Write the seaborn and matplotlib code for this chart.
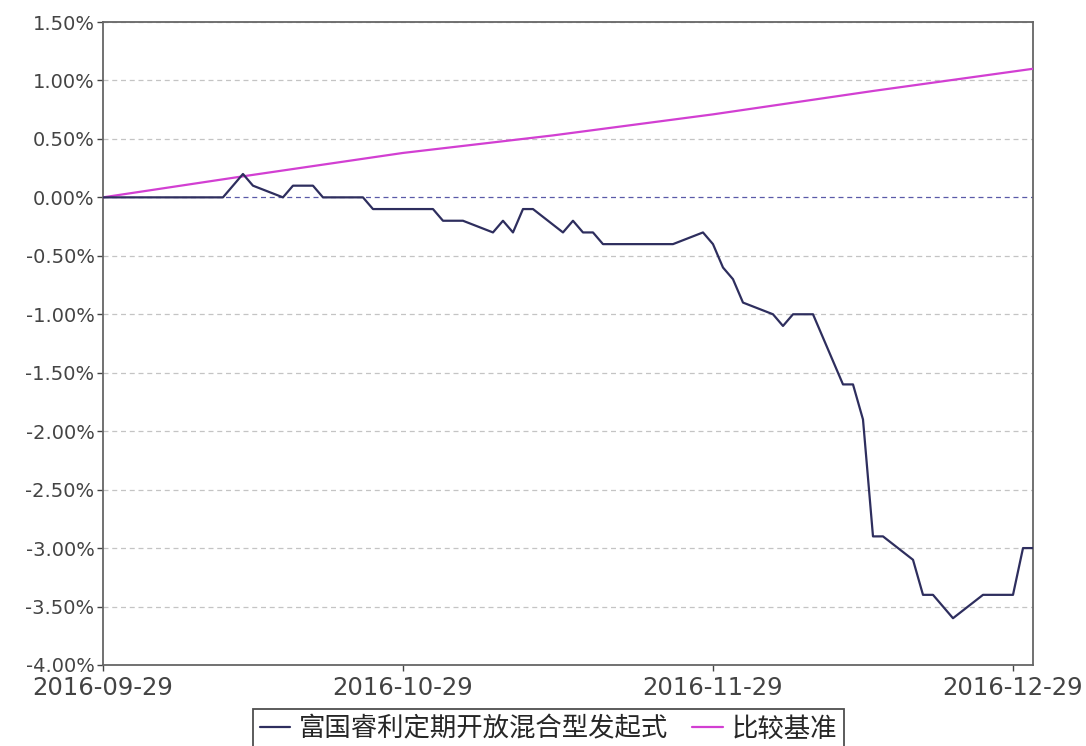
import pandas as pd
import matplotlib
matplotlib.use('Agg')
import matplotlib.pyplot as plt
import matplotlib.dates as mdates
from matplotlib.ticker import FuncFormatter
import seaborn as sns

# Fund cumulative return (%), vertices
fund_dates = ['2016-09-29', '2016-10-11', '2016-10-13', '2016-10-14', '2016-10-17',
              '2016-10-18', '2016-10-20', '2016-10-21', '2016-10-25', '2016-10-26',
              '2016-11-01', '2016-11-02', '2016-11-04', '2016-11-07', '2016-11-08',
              '2016-11-09', '2016-11-10', '2016-11-11', '2016-11-14', '2016-11-15',
              '2016-11-16', '2016-11-17', '2016-11-18', '2016-11-25', '2016-11-28',
              '2016-11-29', '2016-11-30', '2016-12-01', '2016-12-02', '2016-12-05',
              '2016-12-06', '2016-12-07', '2016-12-09', '2016-12-12', '2016-12-13',
              '2016-12-14', '2016-12-15', '2016-12-16', '2016-12-19', '2016-12-20',
              '2016-12-21', '2016-12-23', '2016-12-26', '2016-12-29', '2016-12-30',
              '2016-12-31']
fund_values = [0.0, 0.0, 0.2, 0.1, 0.0,
               0.1, 0.1, 0.0, 0.0, -0.1,
               -0.1, -0.2, -0.2, -0.3, -0.2,
               -0.3, -0.1, -0.1, -0.3, -0.2,
               -0.3, -0.3, -0.4, -0.4, -0.3,
               -0.4, -0.6, -0.7, -0.9, -1.0,
               -1.1, -1.0, -1.0, -1.6, -1.6,
               -1.9, -2.9, -2.9, -3.1, -3.4,
               -3.4, -3.6, -3.4, -3.4, -3.0,
               -3.0]

# Benchmark cumulative return (%)
bench_dates = ['2016-09-29', '2016-10-13', '2016-10-29', '2016-11-13',
               '2016-11-29', '2016-12-15', '2016-12-31']
bench_values = [0.0, 0.18, 0.38, 0.53, 0.71, 0.91, 1.10]

fund_name = '富国睿利定期开放混合型发起式'
bench_name = '比较基准'
tick_dates = ['2016-09-29', '2016-10-29', '2016-11-29', '2016-12-29']
y_ticks = [1.5, 1.0, 0.5, 0.0, -0.5, -1.0, -1.5, -2.0, -2.5, -3.0, -3.5, -4.0]

fund = pd.DataFrame({'date': pd.to_datetime(fund_dates), 'value': fund_values})
bench = pd.DataFrame({'date': pd.to_datetime(bench_dates), 'value': bench_values})

sns.set_style('white')
plt.rcParams['font.family'] = ['DejaVu Sans']

fig = plt.figure(figsize=(10.86, 7.46), dpi=100)
ax = fig.add_axes([0.0948, 0.1086, 0.8564, 0.8619])

# grid lines
for v in y_ticks:
    if v == 0.0:
        ax.axhline(v, color='#5a5aa8', lw=0.9, ls=(0, (4, 3)), zorder=1)
    else:
        ax.axhline(v, color='#c4c4c4', lw=0.9, ls=(0, (4, 3)), zorder=1)

sns.lineplot(data=bench, x='date', y='value', ax=ax, color='#d23fd2', lw=1.6,
             label=bench_name, zorder=3)
sns.lineplot(data=fund, x='date', y='value', ax=ax, color='#2e2e5e', lw=1.6,
             label=fund_name, zorder=4)

ax.set_xlim(pd.Timestamp('2016-09-29'), pd.Timestamp('2016-12-31'))
ax.set_ylim(-4.0, 1.5)
ax.set_yticks(y_ticks)
ax.yaxis.set_major_formatter(FuncFormatter(lambda v, p: f'{v:.2f}%'))
ax.set_xticks(pd.to_datetime(tick_dates))
ax.xaxis.set_major_formatter(mdates.DateFormatter('%Y-%m-%d'))
ax.set_xlabel('')
ax.set_ylabel('')

ax.tick_params(axis='y', labelsize=14, colors='#444444', length=4, width=1,
               direction='out', pad=2, left=True)
ax.tick_params(axis='x', labelsize=17.5, colors='#444444', length=4, width=1,
               direction='out', pad=4, bottom=True)
for s in ax.spines.values():
    s.set_color('#666666')
    s.set_linewidth(1.3)

# legend order: fund first
ax.get_legend().remove()
h, l = ax.get_legend_handles_labels()
order = [l.index(fund_name), l.index(bench_name)]
leg = fig.legend([h[i] for i in order], [l[i] for i in order],
                 loc='upper center', bbox_to_anchor=(0.505, 1 - 709 / 746),
                 borderaxespad=0, ncol=2, frameon=True, fancybox=False,
                 edgecolor='#222222', handlelength=1.15, handletextpad=0.35,
                 columnspacing=0.9, borderpad=0.25,
                 prop={'family': ['Noto Sans CJK SC', 'DejaVu Sans'], 'size': 19})
leg.get_frame().set_linewidth(1.3)

fig.savefig('out.png', dpi=100)
